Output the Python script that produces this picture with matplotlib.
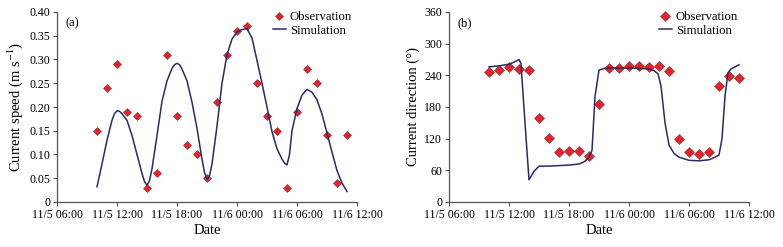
import matplotlib
matplotlib.use("Agg")
import matplotlib.pyplot as plt

plt.rcParams['font.family'] = ['Liberation Serif', 'DejaVu Serif']
plt.rcParams['mathtext.fontset'] = 'stix'

# Observation times (hours since 11/5 00:00)
obs_hours = list(range(10, 36))
obs_speed = [0.15, 0.24, 0.29, 0.19, 0.18, 0.03, 0.06, 0.31, 0.18, 0.12, 0.10, 0.05, 0.21,
             0.31, 0.36, 0.37, 0.25, 0.18, 0.15, 0.03, 0.19, 0.28, 0.25, 0.14, 0.04, 0.14]
obs_dir = [247, 250, 255, 252, 251, 160, 122, 94, 96, 96, 87, 186, 253,
           253, 257, 257, 256, 257, 249, 119, 94, 91, 94, 219, 239, 234]

sim_speed_hours = [10.0, 10.5, 11.0, 11.5, 11.75, 12.0, 12.25, 12.5, 13.0, 13.5, 14.0, 14.5,
                   14.75, 15.0, 15.25, 15.5, 16.0, 16.5, 17.0, 17.5, 17.75, 18.0, 18.25, 18.5,
                   19.0, 19.5, 20.0, 20.5, 20.75, 21.0, 21.25, 21.5, 22.0, 22.5, 23.0, 23.5,
                   24.0, 24.5, 25.0, 25.5, 26.0, 26.5, 27.0, 27.5, 28.0, 28.5, 28.75, 29.0,
                   29.25, 29.5, 30.0, 30.5, 31.0, 31.5, 32.0, 32.5, 33.0, 33.5, 34.0, 34.5, 35.0]
sim_speed = [0.032, 0.08, 0.13, 0.172, 0.186, 0.192, 0.191, 0.186, 0.172, 0.14, 0.10, 0.06,
             0.043, 0.035, 0.045, 0.07, 0.14, 0.212, 0.255, 0.281, 0.289, 0.292, 0.289, 0.280,
             0.255, 0.210, 0.155, 0.09, 0.062, 0.048, 0.055, 0.08, 0.16, 0.25, 0.31, 0.343,
             0.358, 0.363, 0.365, 0.345, 0.298, 0.25, 0.20, 0.148, 0.112, 0.090, 0.082, 0.078,
             0.10, 0.150, 0.197, 0.225, 0.237, 0.231, 0.215, 0.185, 0.145, 0.105,
             0.066, 0.040, 0.022]

sim_dir_hours = [10.0, 11.0, 12.0, 12.5, 13.0, 13.2, 13.6, 14.0, 14.5, 15.0, 16.0, 17.0,
                 18.0, 19.0, 19.5, 20.0, 20.3, 20.6, 21.0, 21.5, 22.0, 24.0, 26.0, 26.5,
                 26.9, 27.2, 27.6, 28.0, 28.5, 29.0, 30.0, 31.0, 32.0, 32.5, 33.0, 33.3,
                 33.6, 33.9, 34.2, 35.0]
sim_dir = [256, 258, 261, 265, 270, 262, 150, 42, 58, 68, 68, 69,
           70, 72, 76, 84, 98, 200, 250, 253, 254, 254, 252, 249,
           243, 220, 150, 108, 92, 85, 79, 78, 80, 84, 89, 120,
           200, 245, 252, 260]

tick_hours = [6, 12, 18, 24, 30, 36]
tick_labels = ['11/5 06:00', '11/5 12:00', '11/5 18:00', '11/6 00:00', '11/6 06:00', '11/6 12:00']

line_color = '#2a2a6a'
mk_face = '#e8202a'
mk_edge = '#8a3030'

fig = plt.figure(figsize=(7.83, 2.47), dpi=100)
ax1 = fig.add_axes([57/783, 1-202/247, 300/783, 190/247])
ax2 = fig.add_axes([449/783, 1-202/247, 300/783, 190/247])

def style(ax):
    for s in ['top', 'right']:
        ax.spines[s].set_visible(False)
    for s in ['left', 'bottom']:
        ax.spines[s].set_color('#555555')
        ax.spines[s].set_linewidth(0.9)
    ax.tick_params(direction='out', length=3, width=0.8, color='#555555', labelsize=8.6, pad=2)
    ax.set_xlim(6, 36)
    ax.set_xticks(tick_hours)
    ax.set_xticklabels(tick_labels)
    ax.set_xlabel('Date', fontsize=10.5, labelpad=2)

# (a)
ax1.plot(obs_hours, obs_speed, linestyle='none', marker='D', markersize=4.3,
         markerfacecolor=mk_face, markeredgecolor=mk_edge, markeredgewidth=0.4, label='Observation')
ax1.plot(sim_speed_hours, sim_speed, color=line_color, linewidth=1.1, label='Simulation')
ax1.set_ylim(0, 0.40)
ax1.set_yticks([0, 0.05, 0.10, 0.15, 0.20, 0.25, 0.30, 0.35, 0.40])
ax1.set_yticklabels(['0', '0.05', '0.10', '0.15', '0.20', '0.25', '0.30', '0.35', '0.40'])
ax1.set_ylabel('Current speed (m s$^{-1}$)', fontsize=10.5, labelpad=3)
style(ax1)
ax1.text(0.03, 0.97, '(a)', transform=ax1.transAxes, fontsize=9, va='top', ha='left')
ax1.legend(loc='upper right', frameon=False, fontsize=9.2, handlelength=1.0,
           handletextpad=0.3, labelspacing=0.1, borderaxespad=0.0, bbox_to_anchor=(1.0, 1.03))

# (b)
ax2.plot(obs_hours, obs_dir, linestyle='none', marker='D', markersize=5.5,
         markerfacecolor=mk_face, markeredgecolor=mk_edge, markeredgewidth=0.4, label='Observation')
ax2.plot(sim_dir_hours, sim_dir, color=line_color, linewidth=1.1, label='Simulation')
ax2.set_ylim(0, 360)
ax2.set_yticks([0, 60, 120, 180, 240, 300, 360])
ax2.set_ylabel('Current direction (°)', fontsize=10.5, labelpad=3)
style(ax2)
ax2.text(0.03, 0.97, '(b)', transform=ax2.transAxes, fontsize=9, va='top', ha='left')
ax2.legend(loc='upper right', frameon=False, fontsize=9.2, handlelength=1.0,
           handletextpad=0.3, labelspacing=0.1, borderaxespad=0.0, bbox_to_anchor=(0.98, 1.03))

fig.savefig('out.png', dpi=100)
